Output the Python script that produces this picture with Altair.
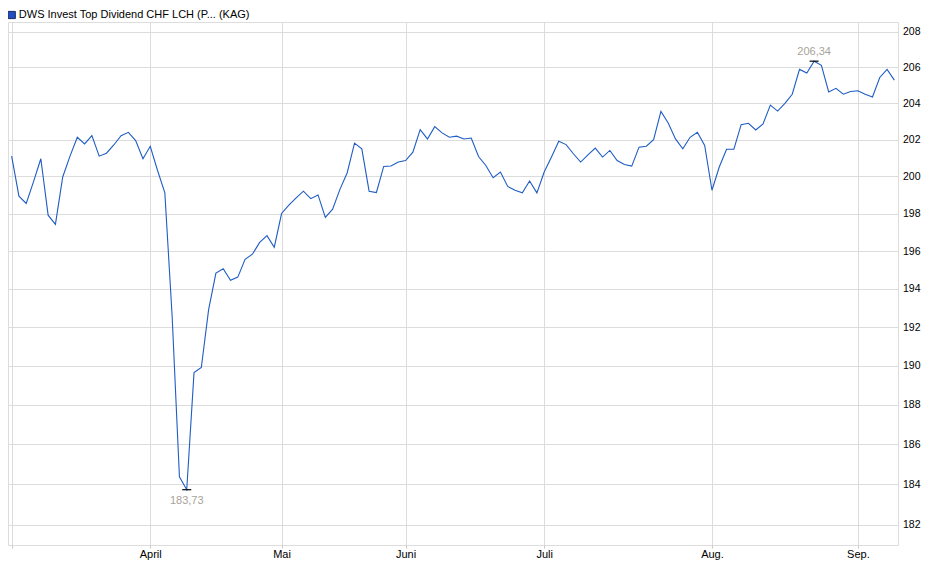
import altair as alt
import pandas as pd

title_text = "DWS Invest Top Dividend CHF LCH (P... (KAG)"

prices = [
    201.10, 198.93, 198.54, 199.72, 200.96, 197.91, 197.42, 199.97, 201.10, 202.13,
    201.77, 202.22, 201.10, 201.26, 201.71, 202.22, 202.40, 201.95, 200.96, 201.64,
    200.32, 199.11, 192.57, 184.37, 183.73, 189.65, 189.91, 192.91, 194.83, 195.06,
    194.45, 194.62, 195.56, 195.83, 196.46, 196.82, 196.20, 198.00, 198.45, 198.84,
    199.20, 198.80, 199.00, 197.79, 198.23, 199.30, 200.20, 201.81, 201.50, 199.20,
    199.13, 200.54, 200.56, 200.78, 200.86, 201.32, 202.55, 202.04, 202.71, 202.37,
    202.13, 202.19, 202.04, 202.09, 201.08, 200.59, 199.93, 200.24, 199.46, 199.25,
    199.11, 199.75, 199.11, 200.24, 201.05, 201.91, 201.73, 201.23, 200.78, 201.17,
    201.54, 201.05, 201.41, 200.86, 200.65, 200.56, 201.59, 201.64, 202.00, 203.55,
    202.91, 202.04, 201.50, 202.13, 202.40, 201.68, 199.25, 200.51, 201.48, 201.48,
    202.82, 202.90, 202.53, 202.86, 203.90, 203.57, 203.99, 204.50, 205.88, 205.68,
    206.34, 206.11, 204.63, 204.83, 204.50, 204.65, 204.69, 204.50, 204.35, 205.43,
    205.88, 205.28,
]

month_ticks = [0, 19, 37, 54, 73, 96, 116]
month_labels = ["", "April", "Mai", "Juni", "Juli", "Aug.", "Sep."]
y_ticks = list(range(182, 210, 2))

df = pd.DataFrame({"i": list(range(len(prices))), "kurs": prices})
imin = int(df["kurs"].idxmin())
imax = int(df["kurs"].idxmax())
low = pd.DataFrame({"i": [imin], "kurs": [prices[imin]]})
high = pd.DataFrame({"i": [imax], "kurs": [prices[imax]]})
for d in (low, high):
    d["label"] = d["kurs"].map(lambda v: f"{v:.2f}".replace(".", ","))

label_expr = (
    "[" + ",".join(f"'{l}'" for l in month_labels) + "]"
    + "[indexof([" + ",".join(str(t) for t in month_ticks) + "], datum.value)]"
)

FONT = "Liberation Sans"
GRID = "#dcdcdc"

x_enc = alt.X(
    "i:Q",
    scale=alt.Scale(domain=[-0.5, len(prices) - 0.5], nice=False, zero=False),
    axis=alt.Axis(
        values=month_ticks, labelExpr=label_expr, grid=True, gridColor=GRID,
        ticks=True, tickSize=3, tickColor="#c8c8c8", domain=False, title=None,
        labelPadding=0.5, labelFontSize=11, labelColor="#000000",
        labelFlush=False, labelOverlap=False, labelFont=FONT,
    ),
)
y_enc = alt.Y(
    "kurs:Q",
    scale=alt.Scale(type="log", domain=[181.0, 208.54], nice=False, zero=False),
    axis=alt.Axis(
        orient="right", values=y_ticks, grid=True, gridColor=GRID,
        ticks=False, domain=False, title=None, labelPadding=4.5,
        labelFontSize=10.5, labelColor="#000000", labelOverlap=False,
        labelFont=FONT, format="d",
    ),
)

line = alt.Chart(df).mark_line(color="#1f5cc4", strokeWidth=1.1).encode(x=x_enc, y=y_enc)

ext = pd.concat([low, high], ignore_index=True)
ticks = alt.Chart(ext).mark_rule(color="#000000", strokeWidth=1.2, xOffset=-4.5, x2Offset=4.5).encode(
    x="i:Q", x2="i:Q", y="kurs:Q"
)
low_txt = alt.Chart(low).mark_text(
    dy=11, fontSize=11, color="#a8a29a", font=FONT, baseline="middle"
).encode(x="i:Q", y="kurs:Q", text="label:N")
high_txt = alt.Chart(high).mark_text(
    dy=-9, fontSize=11, color="#a8a29a", font=FONT, baseline="middle"
).encode(x="i:Q", y="kurs:Q", text="label:N")

leg_df = pd.DataFrame({"t": [title_text]})
leg_sq = alt.Chart(leg_df).mark_square(
    size=52, filled=True, fill="#1f4fc0", stroke="#1a2b66", strokeWidth=1, opacity=1
).encode(x=alt.value(3.75), y=alt.value(-7))
leg_tx = alt.Chart(leg_df).mark_text(
    align="left", baseline="middle", fontSize=11, color="#000000", font=FONT
).encode(x=alt.value(10.8), y=alt.value(-7), text="t:N")

chart = (
    alt.layer(line, ticks, low_txt, high_txt, leg_sq, leg_tx)
    .properties(
        width=890, height=523,
        padding={"left": 0, "top": 14, "right": 34, "bottom": 26},
        autosize=alt.AutoSizeParams(type="none"),
    )
    .configure_view(stroke="#d0d0d0", strokeWidth=1)
    .configure(font=FONT, background="white")
)

chart.save("out.html", embed_options={"renderer": "svg", "actions": False})
